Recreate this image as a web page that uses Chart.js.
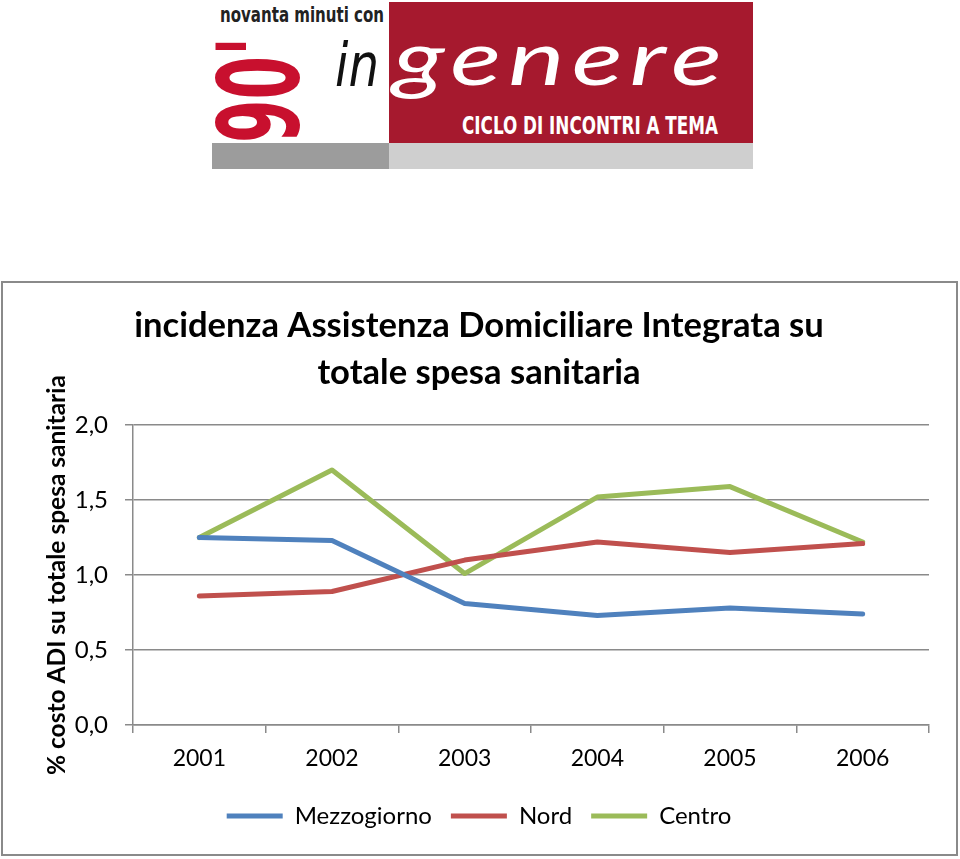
<!DOCTYPE html>
<html>
<head>
<meta charset="utf-8">
<script src="https://cdn.jsdelivr.net/npm/chart.js@4.4.1/dist/chart.umd.min.js"></script>
<style>
body { margin: 0; background: #fff; width: 960px; height: 859px; overflow: hidden; position: relative; }
.abs { position: absolute; white-space: nowrap; }
#red { left: 389px; top: 2px; width: 364px; height: 141px; background: #a6192e; }
#bar1 { left: 212px; top: 143px; width: 177px; height: 26px; background: #9c9c9c; z-index: 3; }
#bar2 { left: 389px; top: 143px; width: 364px; height: 26px; background: #cfcfcf; z-index: 1; }
#nov { left: 220px; top: 3px; font: bold 21px "DejaVu Sans Condensed", "DejaVu Sans", sans-serif; color: #222; transform-origin: 0 0; }
#n90 { left: 259px; top: 90px; font: bold 112px "DejaVu Sans Condensed", "DejaVu Sans", sans-serif; color: #c8102e; line-height: 1; z-index: 2; }
#in { left: 335px; top: 30px; font: italic 60px "DejaVu Sans Condensed", "DejaVu Sans", sans-serif; color: #111; transform-origin: 0 0; }
#gen { left: 393px; top: 10px; font: italic 400 76px Lato, sans-serif; color: #fff; letter-spacing: 5px; transform-origin: 0 0; z-index: 4; }
#ciclo { left: 462px; top: 112px; font: bold 24px "DejaVu Sans Condensed", "DejaVu Sans", sans-serif; color: #fff; transform-origin: 0 0; z-index: 2; }
#box { left: 1px; top: 281px; width: 957px; height: 575px; border: 2px solid #8a8a8a; box-sizing: border-box; }
#wrap { position: relative; width: 953px; height: 571px; }
</style>
</head>
<body>
<div class="abs" id="red"></div>
<div class="abs" id="bar1"></div>
<div class="abs" id="bar2"></div>
<div class="abs" id="nov" data-w="164">novanta minuti con</div>
<div class="abs" id="n90">90'</div>
<div class="abs" id="in" data-w="44">in</div>
<div class="abs" id="gen" data-w="336">genere</div>
<div class="abs" id="ciclo" data-w="256">CICLO DI INCONTRI A TEMA</div>

<div class="abs" id="box"><div id="wrap"><canvas id="chart"></canvas></div></div>

<script>
const years = ['2001', '2002', '2003', '2004', '2005', '2006'];
const mezzogiorno = [1.25, 1.23, 0.81, 0.73, 0.78, 0.74];
const nord = [0.86, 0.89, 1.10, 1.22, 1.15, 1.21];
const centro = [1.25, 1.70, 1.01, 1.52, 1.59, 1.22];
const yTicks = [0, 0.5, 1.0, 1.5, 2.0];

// squeeze logo texts to their width in the reference
document.querySelectorAll('[data-w]').forEach((el) => {
	const w = el.getBoundingClientRect().width;
	el.style.transform = 'scaleX(' + (el.dataset.w / w) + ')';
});
const n90 = document.getElementById('n90');
n90.style.transformOrigin = '0 0';
n90.style.transform = 'rotate(-90deg) scaleX(0.62) translate(-50%, -50%)';

Chart.defaults.font.family = 'Lato, sans-serif';
Chart.defaults.color = '#000';

const gridColor = '#8a8a8a';

new Chart(document.getElementById('chart'), {
	type: 'line',
	data: {
		labels: years,
		datasets: [
			{ label: 'Mezzogiorno', data: mezzogiorno, borderColor: '#4f81bd', backgroundColor: '#4f81bd', borderWidth: 5 },
			{ label: 'Nord', data: nord, borderColor: '#c0504d', backgroundColor: '#c0504d', borderWidth: 5 },
			{ label: 'Centro', data: centro, borderColor: '#9bbb59', backgroundColor: '#9bbb59', borderWidth: 5 },
		],
	},
	options: {
		responsive: true,
		maintainAspectRatio: false,
		animation: false,
		layout: { padding: { left: 26, right: 27, top: 0, bottom: 16 } },
		elements: {
			line: { tension: 0, borderCapStyle: 'round', borderJoinStyle: 'round' },
			point: { radius: 0, hoverRadius: 0 },
		},
		plugins: {
			title: {
				display: true,
				text: ['incidenza Assistenza Domiciliare Integrata su', 'totale spesa sanitaria'],
				font: { size: 34.6, weight: 'bold', lineHeight: 1.36 },
				color: '#000',
				padding: { top: 19, bottom: 29 },
			},
			legend: {
				position: 'bottom',
				labels: {
					usePointStyle: true,
					pointStyle: 'line',
					pointStyleWidth: 56,
					font: { size: 24 },
					padding: 19,
					color: '#000',
				},
			},
			tooltip: { enabled: false },
		},
		scales: {
			x: {
				offset: true,
				grid: { offset: true, drawOnChartArea: false, drawTicks: true, tickLength: 8, color: gridColor, lineWidth: 1.5 },
				border: { display: true, color: gridColor, width: 1.5 },
				ticks: { font: { size: 23 }, padding: 12, color: '#000' },
				afterFit: (scale) => { scale.height = 60; },
			},
			y: {
				min: 0,
				max: 2,
				afterBuildTicks: (scale) => { scale.ticks = yTicks.map((v) => ({ value: v })); },
				afterFit: (scale) => { scale.width = 104; },
				grid: { tickLength: 8, color: gridColor, lineWidth: 1.5 },
				border: { display: true, color: gridColor, width: 1.5 },
				ticks: {
					font: { size: 24 },
					padding: 17,
					color: '#000',
					callback: (v) => Number(v).toFixed(1).replace('.', ','),
				},
				title: {
					display: true,
					text: '% costo ADI su totale spesa sanitaria',
					font: { size: 24.5, weight: 'bold' },
					color: '#000',
					padding: { top: 13, bottom: 0 },
				},
			},
		},
	},
});
</script>
</body>
</html>
